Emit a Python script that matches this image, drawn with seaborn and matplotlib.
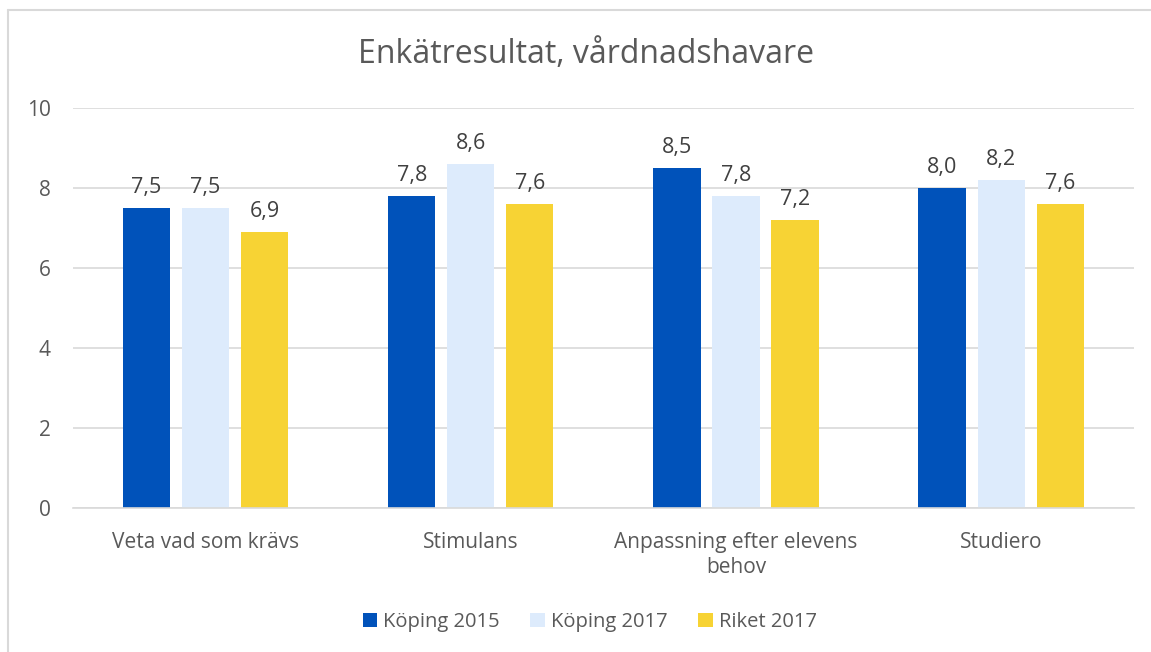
import pandas as pd
import matplotlib.pyplot as plt
import matplotlib.lines as mlines
import seaborn as sns

# Survey results (guardians)
categories = ["Veta vad som krävs", "Stimulans", "Anpassning efter elevens\nbehov", "Studiero"]
series_names = ["Köping 2015", "Köping 2017", "Riket 2017"]
koping_2015 = [7.5, 7.8, 8.5, 8.0]
koping_2017 = [7.5, 8.6, 7.8, 8.2]
riket_2017 = [6.9, 7.6, 7.2, 7.6]
y_ticks = [0, 2, 4, 6, 8, 10]

colors = ["#0052BA", "#DDEBFC", "#F7D334"]

df = pd.DataFrame({
    "Kategori": categories * 3,
    "Serie": [s for s in series_names for _ in categories],
    "Värde": koping_2015 + koping_2017 + riket_2017,
})

sns.set_style("white")
plt.rcParams['font.family'] = ['Open Sans', 'DejaVu Sans']

fig = plt.figure(figsize=(11.51, 6.52), dpi=100)
ax = fig.add_axes([0.0634, 0.2209, 0.9216, 0.6131])

sns.barplot(data=df, x="Kategori", y="Värde", hue="Serie", palette=colors,
            width=0.668, gap=0.2, ax=ax, saturation=1, legend=True, linewidth=0)

ax.set_ylim(0, 10)
ax.set_xlim(-0.5, 3.5)
ax.set_yticks(y_ticks)
ax.set_yticklabels([str(t) for t in y_ticks])
ax.yaxis.grid(True, color="#D9D9D9", linewidth=1.2)
ax.set_axisbelow(True)
for s in ["top", "right", "left"]:
    ax.spines[s].set_visible(False)
ax.spines["bottom"].set_color("#D9D9D9")
ax.spines["bottom"].set_linewidth(1.2)
ax.tick_params(axis="both", length=0, labelsize=15, colors="#595959")
ax.tick_params(axis="y", pad=16)
ax.tick_params(axis="x", pad=17)
for lbl in ax.get_xticklabels():
    lbl.set_linespacing(1.25)
ax.set_xlabel("")
ax.set_ylabel("")

# value labels with decimal comma
for cont in ax.containers:
    ax.bar_label(cont, labels=[f"{b.get_height():.1f}".replace(".", ",") for b in cont],
                 padding=7, fontsize=15.5, color="#404040")

fig.text(0.509, 0.916, "Enkätresultat, vårdnadshavare", ha="center", va="center",
         fontsize=23, color="#595959")

ax.legend(loc="center", bbox_to_anchor=(0.487, -0.285), bbox_transform=ax.transAxes,
          ncol=3, frameon=False, fontsize=14.5, labelcolor="#595959",
          handlelength=0.7, handleheight=0.7, columnspacing=1.55, handletextpad=0.3)

# outer chart border (top and left only, as in the source)
fig.add_artist(mlines.Line2D([8 / 1151, 1], [1 - 10 / 652, 1 - 10 / 652],
                             transform=fig.transFigure, color="#D9D9D9", linewidth=1.5))
fig.add_artist(mlines.Line2D([8 / 1151, 8 / 1151], [0, 1 - 10 / 652],
                             transform=fig.transFigure, color="#D9D9D9", linewidth=1.5))

fig.savefig("out.png", dpi=100)
